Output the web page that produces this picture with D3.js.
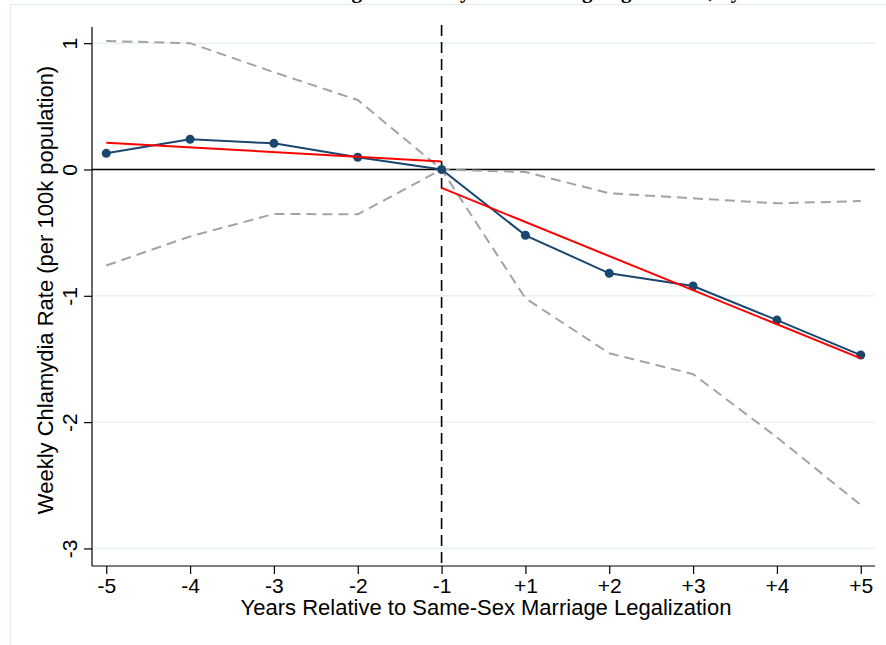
<!DOCTYPE html>
<html>
<head>
<meta charset="utf-8">
<script src="https://cdn.jsdelivr.net/npm/d3@7"></script>
<style>
  body { margin: 0; background: #fff; }
  text { font-family: "Liberation Sans", Arial, sans-serif; }
</style>
</head>
<body>
<div id="chart"></div>
<script>
// DATA
const years = ["-5", "-4", "-3", "-2", "-1", "+1", "+2", "+3", "+4", "+5"];
const estimate = [0.128, 0.239, 0.207, 0.097, 0, -0.521, -0.822, -0.922, -1.192, -1.469];
const upperCI = [1.017, 1.0, 0.77, 0.55, 0, -0.02, -0.188, -0.228, -0.268, -0.25];
const lowerCI = [-0.76, -0.53, -0.352, -0.355, 0, -1.02, -1.455, -1.62, -2.12, -2.656];
// linear fits before / after
const preFit = [{ year: "-5", value: 0.212 }, { year: "-1", value: 0.064 }];
const postFit = [{ year: "-1", value: -0.146 }, { year: "+5", value: -1.495 }];
const yTicks = [1, 0, -1, -2, -3];
const yTickLabels = ["1", "0", "-1", "-2", "-3"];

const width = 886;
const height = 645;
const plot = { left: 92, right: 875, top: 27, bottom: 566 };
const navy = "#1a476f";
const gray = "#a3a3a3";
const fontSize = "21px";

const svg = d3
  .select("#chart")
  .append("svg")
  .attr("width", width)
  .attr("height", height);

const x = d3
  .scalePoint()
  .domain(years)
  .range([plot.left, plot.right])
  .padding(0.17);

const y = d3
  .scaleLinear()
  .domain([-3.139, 1.128])
  .range([plot.bottom, plot.top]);

// outer graph frame (light)
svg
  .append("rect")
  .attr("x", 10.5)
  .attr("y", 4.5)
  .attr("width", width)
  .attr("height", height)
  .attr("fill", "none")
  .attr("stroke", "#e1eaee")
  .attr("stroke-width", 1);

// title, cut off at the top edge as in the source image
svg
  .append("text")
  .attr("x", 545)
  .attr("y", -2)
  .attr("text-anchor", "middle")
  .style("font-family", "'Liberation Serif', 'Times New Roman', serif")
  .style("font-weight", "bold")
  .style("font-size", "21px")
  .text("Change in Chlamydia Following Legalization, by Year");

// gridlines
svg
  .append("g")
  .selectAll("line")
  .data(yTicks)
  .join("line")
  .attr("x1", plot.left)
  .attr("x2", plot.right)
  .attr("y1", (d) => y(d))
  .attr("y2", (d) => y(d))
  .attr("stroke", "#eaf1f3")
  .attr("stroke-width", 1.5);

// y axis
const yAxis = svg
  .append("g")
  .attr("transform", `translate(${plot.left},0)`)
  .call(
    d3
      .axisLeft(y)
      .tickValues(yTicks)
      .tickSize(8)
      .tickFormat((d, i) => yTickLabels[i])
  );
yAxis.select(".domain").attr("stroke", "#000").attr("stroke-width", 1.2).attr("d", `M0,${plot.top}V${plot.bottom}`);
yAxis.selectAll(".tick line").attr("stroke", "#000").attr("stroke-width", 1.2);
yAxis
  .selectAll(".tick text")
  .attr("transform", "rotate(-90)")
  .attr("x", 0)
  .attr("y", -15)
  .attr("dy", "0")
  .attr("text-anchor", "middle")
  .style("font-size", fontSize)
  .attr("fill", "#000");

// x axis
const xAxis = svg
  .append("g")
  .attr("transform", `translate(0,${plot.bottom})`)
  .call(d3.axisBottom(x).tickSize(8).tickPadding(4));
xAxis.select(".domain").attr("stroke", "#000").attr("stroke-width", 1.2).attr("d", `M${plot.left},0H${plot.right}`);
xAxis.selectAll(".tick line").attr("stroke", "#000").attr("stroke-width", 1.2);
xAxis.selectAll(".tick text").style("font-size", fontSize).attr("fill", "#000");

// axis titles
svg
  .append("text")
  .attr("x", 486)
  .attr("y", 615)
  .attr("text-anchor", "middle")
  .style("font-size", "22px")
  .text("Years Relative to Same-Sex Marriage Legalization");

svg
  .append("text")
  .attr("transform", `translate(53,290) rotate(-90)`)
  .attr("text-anchor", "middle")
  .style("font-size", "22px")
  .text("Weekly Chlamydia Rate (per 100k population)");

// zero line
svg
  .append("line")
  .attr("x1", plot.left)
  .attr("x2", plot.right)
  .attr("y1", y(0))
  .attr("y2", y(0))
  .attr("stroke", "#000")
  .attr("stroke-width", 1.6);

// vertical dashed reference at -1
svg
  .append("line")
  .attr("x1", x("-1"))
  .attr("x2", x("-1"))
  .attr("y1", plot.top - 2)
  .attr("y2", plot.bottom)
  .attr("stroke", "#000")
  .attr("stroke-width", 1.6)
  .attr("stroke-dasharray", "11,6");

const line = d3
  .line()
  .x((d) => x(d.year))
  .y((d) => y(d.value));

const toPoints = (vals) => vals.map((v, i) => ({ year: years[i], value: v }));

// confidence bounds
[upperCI, lowerCI].forEach((vals) => {
  svg
    .append("path")
    .datum(toPoints(vals))
    .attr("d", line)
    .attr("fill", "none")
    .attr("stroke", gray)
    .attr("stroke-width", 2)
    .attr("stroke-dasharray", "10,6");
});

// estimate line + markers
svg
  .append("path")
  .datum(toPoints(estimate))
  .attr("d", line)
  .attr("fill", "none")
  .attr("stroke", navy)
  .attr("stroke-width", 2);

svg
  .append("g")
  .selectAll("circle")
  .data(toPoints(estimate))
  .join("circle")
  .attr("cx", (d) => x(d.year))
  .attr("cy", (d) => y(d.value))
  .attr("r", 4.5)
  .attr("fill", navy);

// fitted trends
[preFit, postFit].forEach((seg) => {
  svg
    .append("path")
    .datum(seg)
    .attr("d", line)
    .attr("fill", "none")
    .attr("stroke", "#ff0000")
    .attr("stroke-width", 2);
});
</script>
</body>
</html>
